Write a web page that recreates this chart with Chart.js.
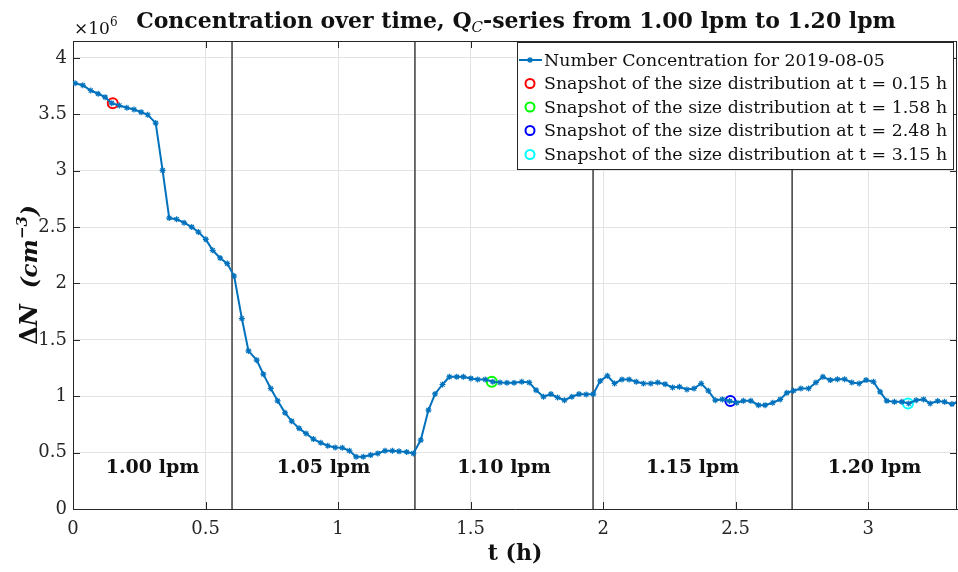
<!DOCTYPE html>
<html>
<head>
<meta charset="utf-8">
<script src="https://cdn.jsdelivr.net/npm/chart.js@4.4.1/dist/chart.umd.min.js"></script>
<style>
  html, body { margin: 0; padding: 0; background: #fff; }
</style>
</head>
<body>
<canvas id="conc" width="958" height="572"></canvas>
<script>
// time (h) and number concentration (x10^6 cm^-3)
const hours = [
  0.008, 0.037, 0.067, 0.095, 0.121, 0.146, 0.175, 0.203, 0.230, 0.257,
  0.282, 0.312, 0.338, 0.363, 0.391, 0.419, 0.448, 0.473, 0.501, 0.527,
  0.555, 0.582, 0.608, 0.637, 0.662, 0.693, 0.718, 0.746, 0.772, 0.800,
  0.825, 0.853, 0.879, 0.907, 0.935, 0.961, 0.989, 1.016, 1.043, 1.068,
  1.095, 1.123, 1.150, 1.177, 1.205, 1.230, 1.259, 1.284, 1.312, 1.341,
  1.366, 1.394, 1.420, 1.448, 1.473, 1.501, 1.527, 1.555, 1.584, 1.611,
  1.637, 1.664, 1.693, 1.721, 1.747, 1.775, 1.803, 1.828, 1.854, 1.882,
  1.909, 1.936, 1.963, 1.989, 2.016, 2.043, 2.071, 2.098, 2.125, 2.152,
  2.180, 2.206, 2.234, 2.262, 2.288, 2.316, 2.343, 2.370, 2.397, 2.423,
  2.450, 2.477, 2.504, 2.529, 2.557, 2.586, 2.611, 2.640, 2.668, 2.693,
  2.718, 2.746, 2.775, 2.803, 2.829, 2.857, 2.884, 2.911, 2.938, 2.966,
  2.992, 3.020, 3.045, 3.070, 3.099, 3.127, 3.153, 3.181, 3.209, 3.234,
  3.262, 3.288, 3.316, 3.340
];
const numConc = [
  3.776, 3.758, 3.711, 3.682, 3.652, 3.599, 3.578, 3.558, 3.543, 3.519,
  3.496, 3.422, 3.003, 2.580, 2.569, 2.539, 2.500, 2.456, 2.391, 2.294,
  2.226, 2.176, 2.066, 1.689, 1.402, 1.320, 1.196, 1.069, 0.959, 0.853,
  0.779, 0.715, 0.670, 0.620, 0.587, 0.561, 0.546, 0.543, 0.516, 0.463,
  0.463, 0.478, 0.493, 0.516, 0.516, 0.511, 0.505, 0.493, 0.611, 0.877,
  1.020, 1.104, 1.172, 1.172, 1.172, 1.158, 1.149, 1.149, 1.128, 1.122,
  1.119, 1.119, 1.128, 1.122, 1.054, 0.995, 1.019, 0.989, 0.965, 0.995,
  1.019, 1.016, 1.019, 1.136, 1.181, 1.113, 1.149, 1.149, 1.128, 1.113,
  1.113, 1.122, 1.107, 1.078, 1.083, 1.060, 1.069, 1.113, 1.048, 0.965,
  0.972, 0.957, 0.942, 0.959, 0.959, 0.921, 0.921, 0.942, 0.972, 1.030,
  1.048, 1.069, 1.069, 1.122, 1.172, 1.143, 1.151, 1.151, 1.122, 1.113,
  1.143, 1.128, 1.039, 0.959, 0.950, 0.950, 0.936, 0.965, 0.972, 0.936,
  0.957, 0.950, 0.930, 0.950
];

const snapTimes = [0.15, 1.58, 2.48, 3.15];
const snapValues = [3.599, 1.128, 0.957, 0.936];
const snapColors = ['#ff0000', '#00ff00', '#0000ff', '#00ffff'];
const snapLabels = snapTimes.map(t => 'Snapshot of the size distribution at t = ' + t.toFixed(2) + ' h');

const flowBreaks = [0.6, 1.29, 1.962, 2.713];
const flowLabels = ['1.00 lpm', '1.05 lpm', '1.10 lpm', '1.15 lpm', '1.20 lpm'];
const flowLabelTimes = [0.30, 0.945, 1.626, 2.338, 3.024];
const flowLabelLevel = 0.36;

const xMax = 3.335, yMax = 4.15;
const SERIF = '"DejaVu Serif", "Liberation Serif", serif';
const AX = '#262626';

const datasets = [{
  label: 'Number Concentration for 2019-08-05',
  data: hours.map((t, i) => ({ x: t, y: numConc[i] })),
  borderColor: '#0072BD',
  backgroundColor: '#0072BD',
  borderWidth: 2,
  pointStyle: 'star',
  pointRadius: 3,
  pointBorderWidth: 1.2,
  tension: 0
}];
snapTimes.forEach((t, i) => {
  datasets.push({
    label: snapLabels[i],
    data: [{ x: t, y: snapValues[i] }],
    showLine: false,
    borderColor: snapColors[i],
    backgroundColor: 'rgba(0,0,0,0)',
    pointStyle: 'circle',
    pointRadius: 5,
    pointBorderWidth: 2
  });
});
flowBreaks.forEach(b => {
  datasets.push({
    label: 'break',
    data: [{ x: b, y: 0 }, { x: b, y: yMax }],
    borderColor: '#3c3c3c',
    borderWidth: 1.5,
    pointRadius: 0
  });
});

function drawRich(ctx, parts, x, y, align) {
  let w = 0;
  parts.forEach(p => { ctx.font = p.font; w += ctx.measureText(p.t).width; });
  let cx = align === 'center' ? x - w / 2 : x;
  ctx.textAlign = 'left';
  ctx.textBaseline = 'alphabetic';
  parts.forEach(p => {
    ctx.font = p.font;
    ctx.fillText(p.t, cx, y + (p.dy || 0));
    cx += ctx.measureText(p.t).width;
  });
}

const decor = {
  id: 'decor',
  afterDatasetsDraw(chart) {
    const { ctx, chartArea: a, scales: { x, y } } = chart;
    ctx.save();
    // box + inward ticks
    ctx.strokeStyle = AX;
    ctx.lineWidth = 1;
    ctx.beginPath();
    ctx.moveTo(a.left, a.top + 0.5); ctx.lineTo(a.right, a.top + 0.5);
    ctx.moveTo(a.right - 0.5, a.top); ctx.lineTo(a.right - 0.5, a.bottom);
    x.ticks.forEach(tk => {
      const px = Math.round(x.getPixelForValue(tk.value)) + 0.5;
      ctx.moveTo(px, a.bottom); ctx.lineTo(px, a.bottom - 7);
      ctx.moveTo(px, a.top); ctx.lineTo(px, a.top + 7);
    });
    y.ticks.forEach(tk => {
      const py = Math.round(y.getPixelForValue(tk.value)) + 0.5;
      ctx.moveTo(a.left, py); ctx.lineTo(a.left + 7, py);
      ctx.moveTo(a.right, py); ctx.lineTo(a.right - 7, py);
    });
    ctx.stroke();

    // flow-rate labels
    ctx.fillStyle = '#111';
    ctx.font = 'bold 19px ' + SERIF;
    ctx.textAlign = 'center';
    ctx.textBaseline = 'middle';
    flowLabels.forEach((l, i) => {
      ctx.fillText(l, x.getPixelForValue(flowLabelTimes[i]), y.getPixelForValue(flowLabelLevel));
    });

    // legend
    const lx = 517, ly = 42, lw = 436, lh = 127;
    ctx.fillStyle = '#fff';
    ctx.fillRect(lx, ly, lw, lh);
    ctx.strokeStyle = AX;
    ctx.strokeRect(lx + 0.5, ly + 0.5, lw, lh);
    const rows = [60, 83.5, 107, 130.5, 154.5];
    ctx.font = '17.4px ' + SERIF;
    ctx.textAlign = 'left';
    ctx.textBaseline = 'middle';
    rows.forEach((ry, i) => {
      const ds = chart.data.datasets[i];
      if (i === 0) {
        ctx.strokeStyle = ds.borderColor;
        ctx.lineWidth = 2;
        ctx.beginPath(); ctx.moveTo(519, ry); ctx.lineTo(542, ry); ctx.stroke();
        ctx.lineWidth = 1.2;
        Chart.helpers.drawPoint(ctx, { pointStyle: 'star', radius: 3, borderWidth: 1.2 }, 530, ry);
      } else {
        ctx.strokeStyle = ds.borderColor;
        ctx.lineWidth = 2;
        ctx.beginPath(); ctx.arc(530, ry, 4.5, 0, Math.PI * 2); ctx.stroke();
      }
      ctx.fillStyle = '#111';
      ctx.fillText(ds.label, 544, ry + 1);
    });

    // title
    ctx.fillStyle = '#111';
    const tb = 'bold 22px ' + SERIF;
    drawRich(ctx, [
      { t: 'Concentration over time, Q', font: tb },
      { t: 'C', font: 'italic 15px ' + SERIF, dy: 4 },
      { t: '-series from 1.00 lpm to 1.20 lpm', font: tb }
    ], 516, 28, 'center');

    // exponent
    drawRich(ctx, [
      { t: '\u00d710', font: '17px ' + SERIF },
      { t: '6', font: '12px ' + SERIF, dy: -8 }
    ], 74, 34, 'left');

    // x title
    ctx.font = 'bold 22px ' + SERIF;
    ctx.textAlign = 'center';
    ctx.textBaseline = 'alphabetic';
    ctx.fillText('t (h)', (a.left + a.right) / 2, 560);

    // y title
    ctx.translate(37, (a.top + a.bottom) / 2);
    ctx.rotate(-Math.PI / 2);
    drawRich(ctx, [
      { t: '\u0394', font: 'bold 24px ' + SERIF },
      { t: 'N', font: 'bold italic 24px ' + SERIF },
      { t: '  (cm', font: 'bold italic 23px ' + SERIF },
      { t: '\u22123', font: 'bold italic 15px ' + SERIF, dy: -10 },
      { t: ')', font: 'bold italic 23px ' + SERIF }
    ], 0, 0, 'center');
    ctx.restore();
  }
};

new Chart(document.getElementById('conc'), {
  type: 'line',
  data: { datasets: datasets },
  options: {
    responsive: false,
    animation: false,
    layout: { autoPadding: false, padding: { left: 0, top: 41, right: 1, bottom: 0 } },
    plugins: { legend: { display: false }, tooltip: { enabled: false }, title: { display: false } },
    scales: {
      x: {
        type: 'linear',
        min: 0, max: xMax,
        afterFit: s => { s.height = 63; s.paddingLeft = 0; s.paddingRight = 0; },
        grid: { color: '#e3e3e3', drawTicks: false },
        border: { color: AX, width: 1 },
        ticks: {
          stepSize: 0.5, includeBounds: false, padding: 10,
          color: AX, font: { family: SERIF, size: 18 },
          callback: v => String(v)
        }
      },
      y: {
        min: 0, max: yMax,
        afterFit: s => { s.width = 73; s.paddingTop = 0; s.paddingBottom = 0; },
        grid: { color: '#e3e3e3', drawTicks: false },
        border: { color: AX, width: 1 },
        ticks: {
          stepSize: 0.5, includeBounds: false, padding: 6,
          color: AX, font: { family: SERIF, size: 18 },
          callback: v => String(v)
        }
      }
    }
  },
  plugins: [decor]
});
</script>
</body>
</html>
